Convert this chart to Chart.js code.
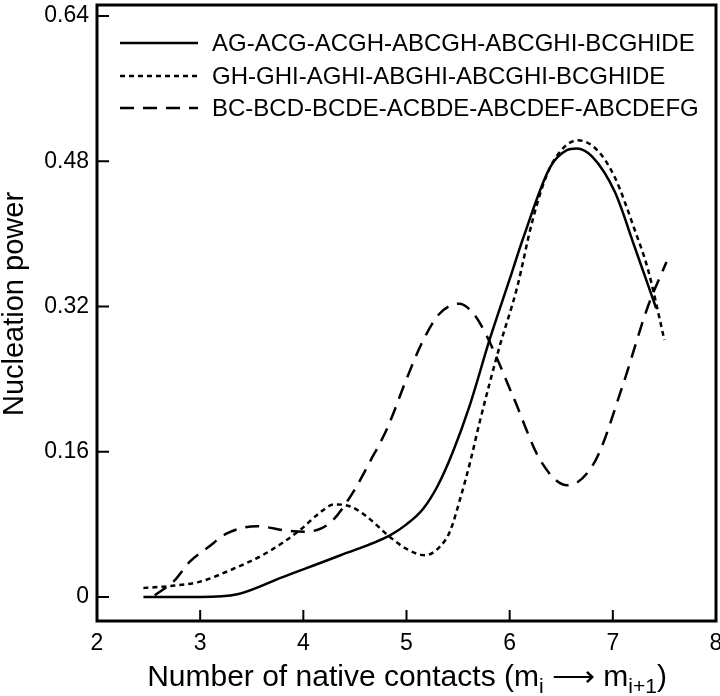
<!DOCTYPE html>
<html lang="en">
<head>
  <meta charset="UTF-8">
  <title>Nucleation power</title>
  <script src="https://cdn.jsdelivr.net/npm/chart.js"></script>
  <style>
    body { margin: 0; background: #fff; }
    #wrap { width: 720px; height: 696px; }
  </style>
</head>
<body>
  <div id="wrap"><canvas id="grafico"></canvas></div>

<script>
  // series labels (legend)
  var nomes = [
    'AG-ACG-ACGH-ABCGH-ABCGHI-BCGHIDE',
    'GH-GHI-AGHI-ABGHI-ABCGHI-BCGHIDE',
    'BC-BCD-BCDE-ACBDE-ABCDEF-ABCDEFG'
  ];

  // values
  var solidoX = [2.45, 3.0, 3.36, 3.8, 4.36, 4.84, 5.0, 5.16, 5.3, 5.45, 5.61, 5.81, 6.0, 6.13, 6.39, 6.55, 6.65, 6.8, 7.02, 7.21, 7.42];
  var solidoY = [0, 0, 0.003, 0.022, 0.046, 0.068, 0.08, 0.097, 0.122, 0.16, 0.21, 0.285, 0.35, 0.395, 0.473, 0.492, 0.494, 0.485, 0.446, 0.386, 0.318];

  var pontilhadoX = [2.45, 2.7, 3.0, 3.3, 3.65, 3.97, 4.15, 4.3, 4.45, 4.61, 4.84, 5.0, 5.18, 5.32, 5.42, 5.52, 5.62, 5.71, 5.9, 6.07, 6.22, 6.36, 6.5, 6.66, 6.85, 7.02, 7.21, 7.34, 7.5];
  var pontilhadoY = [0.01, 0.012, 0.017, 0.03, 0.049, 0.074, 0.092, 0.102, 0.1, 0.089, 0.066, 0.053, 0.046, 0.055, 0.072, 0.108, 0.15, 0.193, 0.275, 0.34, 0.414, 0.465, 0.492, 0.503, 0.492, 0.462, 0.405, 0.361, 0.283];

  var tracejadoX = [2.56, 2.75, 2.9, 3.08, 3.26, 3.55, 3.84, 4.03, 4.18, 4.29, 4.48, 4.65, 4.81, 5.0, 5.15, 5.32, 5.51, 5.65, 5.78, 6.04, 6.3, 6.56, 6.83, 7.09, 7.34, 7.52];
  var tracejadoY = [0.002, 0.018, 0.039, 0.055, 0.07, 0.078, 0.073, 0.072, 0.076, 0.085, 0.115, 0.15, 0.185, 0.24, 0.28, 0.312, 0.323, 0.312, 0.287, 0.219, 0.15, 0.123, 0.15, 0.231, 0.32, 0.369];

  // tick labels
  var ticksX = [2, 3, 4, 5, 6, 7, 8];
  var ticksY = [0, 0.16, 0.32, 0.48, 0.64];

  var fonte = '"Liberation Sans", Arial, Helvetica, sans-serif';

  function pares(xs, ys) {
    var lista = [];
    for (var i = 0; i < xs.length; i++) {
      lista.push({ x: xs[i], y: ys[i] });
    }
    return lista;
  }

  // frame, inward ticks, legend and axis titles
  var molduraPlugin = {
    id: 'moldura',
    afterDraw: function (chart) {
      var ctx = chart.ctx;
      var area = chart.chartArea;
      var sx = chart.scales.x;
      var sy = chart.scales.y;
      ctx.save();
      ctx.strokeStyle = '#000';
      ctx.fillStyle = '#000';
      ctx.lineWidth = 3;
      ctx.setLineDash([]);
      ctx.strokeRect(area.left, area.top, area.right - area.left, area.bottom - area.top);

      // inward ticks
      ctx.lineWidth = 2;
      ctx.beginPath();
      for (var i = 1; i < ticksX.length - 1; i++) {
        var px = sx.getPixelForValue(ticksX[i]);
        ctx.moveTo(px, area.bottom);
        ctx.lineTo(px, area.bottom - 11);
      }
      for (var j = 0; j < ticksY.length; j++) {
        var py = sy.getPixelForValue(ticksY[j]);
        ctx.moveTo(area.left, py);
        ctx.lineTo(area.left + 12, py);
      }
      ctx.stroke();

      // legend inside the plot
      var linhas = [43, 76, 108];
      chart.data.datasets.forEach(function (ds, k) {
        ctx.lineWidth = ds.borderWidth;
        ctx.setLineDash(ds.borderDash || []);
        ctx.beginPath();
        ctx.moveTo(120, linhas[k]);
        ctx.lineTo(198, linhas[k]);
        ctx.stroke();
        ctx.setLineDash([]);
        ctx.font = '24px ' + fonte;
        ctx.textBaseline = 'middle';
        ctx.textAlign = 'left';
        ctx.fillText(ds.label, 212, linhas[k] + 1);
      });

      // y title
      ctx.save();
      ctx.translate(15, 304);
      ctx.rotate(-Math.PI / 2);
      ctx.font = '29px ' + fonte;
      ctx.textAlign = 'center';
      ctx.textBaseline = 'middle';
      ctx.fillText('Nucleation power', 0, 0);
      ctx.restore();

      // x title with subscripts
      var grande = '30px ' + fonte;
      var pequeno = '21px ' + fonte;
      var partes = [
        { t: 'Number of native contacts (m', f: grande, dy: 0 },
        { t: 'i', f: pequeno, dy: 7 },
        { t: ' \u27F6 m', f: grande, dy: 0 },
        { t: 'i+1', f: pequeno, dy: 7 },
        { t: ')', f: grande, dy: 0 }
      ];
      var total = 0;
      partes.forEach(function (p) { ctx.font = p.f; p.w = ctx.measureText(p.t).width; total += p.w; });
      var x0 = 407 - total / 2;
      var base = 686;
      ctx.textAlign = 'left';
      ctx.textBaseline = 'alphabetic';
      partes.forEach(function (p) {
        ctx.font = p.f;
        ctx.fillText(p.t, x0, base + p.dy);
        x0 += p.w;
      });
      ctx.restore();
    }
  };

  var estilo = {
    borderColor: '#000',
    backgroundColor: '#000',
    borderWidth: 2.5,
    pointRadius: 0,
    fill: false,
    cubicInterpolationMode: 'monotone'
  };

  var conjuntos = [
    Object.assign({ label: nomes[0], data: pares(solidoX, solidoY), borderDash: [] }, estilo),
    Object.assign({ label: nomes[1], data: pares(pontilhadoX, pontilhadoY), borderDash: [5, 4] }, estilo),
    Object.assign({ label: nomes[2], data: pares(tracejadoX, tracejadoY), borderDash: [14, 9] }, estilo)
  ];

  var grafico = new Chart(document.getElementById('grafico'), {
    type: 'line',
    data: { datasets: conjuntos },
    options: {
      responsive: true,
      maintainAspectRatio: false,
      animation: false,
      layout: { padding: { top: 5, right: 4, left: 0, bottom: 0 } },
      plugins: {
        legend: { display: false },
        tooltip: { enabled: false }
      },
      scales: {
        x: {
          type: 'linear',
          min: 2,
          max: 8,
          afterFit: function (s) { s.height = 75; s.paddingLeft = 0; s.paddingRight = 0; },
          afterBuildTicks: function (s) { s.ticks = ticksX.map(function (v) { return { value: v }; }); },
          grid: { display: false, drawTicks: false },
          border: { display: false },
          ticks: { color: '#000', padding: 9, font: { family: fonte, size: 23 }, maxRotation: 0 }
        },
        y: {
          type: 'linear',
          min: -0.0264,
          max: 0.652,
          afterFit: function (s) { s.width = 97; s.paddingTop = 0; s.paddingBottom = 0; },
          afterBuildTicks: function (s) { s.ticks = ticksY.map(function (v) { return { value: v }; }); },
          grid: { display: false, drawTicks: false },
          border: { display: false },
          ticks: {
            color: '#000',
            padding: 8,
            font: { family: fonte, size: 23 },
            callback: function (v) { return v === 0 ? '0' : String(v); }
          }
        }
      }
    },
    plugins: [molduraPlugin]
  });
</script>
</body>
</html>
